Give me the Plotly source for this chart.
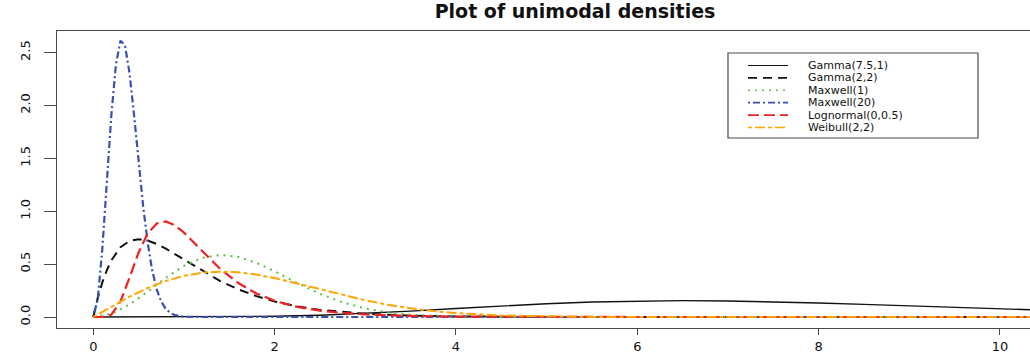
import plotly.graph_objects as go

# ---- density curves (x, density) ----
series_names = ["Gamma(7.5,1)", "Gamma(2,2)", "Maxwell(1)", "Maxwell(20)",
                "Lognormal(0,0.5)", "Weibull(2,2)"]

gamma75_x = [0, 1, 1.5, 2, 2.5, 3, 3.5, 4, 4.5, 5, 5.5, 6, 6.5, 7, 7.5, 8,
             8.5, 9, 9.5, 10, 10.5]
gamma75_y = [0, 0.0002, 0.0017, 0.0065, 0.0169, 0.0336, 0.0555, 0.0802,
             0.1046, 0.1258, 0.1419, 0.1514, 0.1546, 0.1517, 0.1441, 0.1329,
             0.1195, 0.1051, 0.0906, 0.0767, 0.0639]

gamma22_x = [0, 0.05, 0.1, 0.15, 0.2, 0.3, 0.4, 0.5, 0.6, 0.7, 0.8, 0.9, 1.0,
             1.2, 1.4, 1.6, 1.8, 2.0, 2.25, 2.5, 2.75, 3.0, 3.5, 4.0, 5.0,
             6.0, 10.5]
gamma22_y = [0, 0.181, 0.327, 0.444, 0.536, 0.659, 0.719, 0.736, 0.723,
             0.690, 0.646, 0.595, 0.541, 0.435, 0.340, 0.261, 0.197, 0.147,
             0.100, 0.067, 0.045, 0.030, 0.013, 0.005, 0.001, 0.0, 0.0]

maxwell1_x = [0, 0.2, 0.4, 0.6, 0.8, 1.0, 1.2, 1.4, 1.6, 1.8, 2.0, 2.25, 2.5,
              2.75, 3.0, 3.25, 3.5, 4.0, 4.5, 5.0, 10.5]
maxwell1_y = [0, 0.031, 0.118, 0.240, 0.371, 0.484, 0.559, 0.587, 0.568,
              0.512, 0.432, 0.321, 0.219, 0.138, 0.080, 0.043, 0.021, 0.004,
              0.001, 0.0, 0.0]

maxwell20_x = [0, 0.05, 0.1, 0.15, 0.2, 0.25, 0.3, 0.35, 0.4, 0.45, 0.5,
               0.55, 0.6, 0.65, 0.7, 0.75, 0.8, 0.85, 0.9, 1.0, 1.1, 1.2,
               10.5]
maxwell20_y = [0, 0.174, 0.646, 1.282, 1.914, 2.388, 2.612, 2.569, 2.305,
               1.908, 1.465, 1.048, 0.702, 0.441, 0.260, 0.145, 0.076, 0.038,
               0.018, 0.003, 0.0005, 0.0, 0.0]

lognorm_x = [0, 0.1, 0.2, 0.3, 0.4, 0.5, 0.6, 0.7, 0.8, 0.9, 1.0, 1.1, 1.2,
             1.4, 1.6, 1.8, 2.0, 2.25, 2.5, 2.75, 3.0, 3.5, 4.0, 5.0, 6.0,
             10.5]
lognorm_y = [0, 0.0002, 0.023, 0.147, 0.372, 0.610, 0.789, 0.884, 0.903,
             0.867, 0.798, 0.712, 0.622, 0.454, 0.321, 0.222, 0.153, 0.095,
             0.060, 0.038, 0.024, 0.010, 0.004, 0.001, 0.0, 0.0]

weibull_x = [0, 0.2, 0.4, 0.6, 0.8, 1.0, 1.2, 1.4, 1.6, 1.8, 2.0, 2.25, 2.5,
             2.75, 3.0, 3.25, 3.5, 3.75, 4.0, 4.5, 5.0, 5.5, 6.0, 7.0, 10.5]
weibull_y = [0, 0.099, 0.192, 0.274, 0.341, 0.389, 0.419, 0.429, 0.422,
             0.401, 0.368, 0.317, 0.262, 0.208, 0.158, 0.116, 0.082, 0.056,
             0.037, 0.014, 0.005, 0.001, 0.0004, 0.0, 0.0]

x_ticks = [0, 2, 4, 6, 8, 10]
x_tick_labels = ["0", "2", "4", "6", "8", "10"]
y_ticks = [0, 0.5, 1.0, 1.5, 2.0, 2.5]
y_tick_labels = ["0.0", "0.5", "1.0", "1.5", "2.0", "2.5"]

# line styles mimicking R's lty 1..6
styles = [
    dict(color="#111111", width=1.4, dash="solid"),
    dict(color="#111111", width=2.0, dash="9px,6px"),
    dict(color="#5cbf4a", width=2.0, dash="2px,5px"),
    dict(color="#3a4fb2", width=2.2, dash="2px,3px,7px,3px"),
    dict(color="#ee2222", width=2.2, dash="11px,5px"),
    dict(color="#ffa500", width=2.0, dash="4px,3px,10px,3px"),
]

curves = [(gamma75_x, gamma75_y), (gamma22_x, gamma22_y),
          (maxwell1_x, maxwell1_y), (maxwell20_x, maxwell20_y),
          (lognorm_x, lognorm_y), (weibull_x, weibull_y)]

fig = go.Figure()
for name, (xs, ys), st in zip(series_names, curves, styles):
    fig.add_trace(go.Scatter(x=xs, y=ys, mode="lines", name=name,
                             line=st, showlegend=False, hoverinfo="skip"))

W, H = 1030, 362
PLOT_L, PLOT_R, PLOT_T, PLOT_B = 57, 1030, 31, 328
AXIS_COL = "#4a4a4a"
TICK_FONT = dict(family="DejaVu Sans", size=13, color="#111111")


def paper_x(px):
    return (px - PLOT_L) / (PLOT_R - PLOT_L)


def paper_y(py):
    return (PLOT_B - py) / (PLOT_B - PLOT_T)


# boxed legend drawn in the upper right
shapes = [dict(type="rect", xref="paper", yref="paper",
               x0=paper_x(728), x1=paper_x(978),
               y0=paper_y(138), y1=paper_y(53),
               line=dict(color=AXIS_COL, width=1.2), fillcolor="white",
               layer="above")]
annotations = []
for i, (name, st) in enumerate(zip(series_names, styles)):
    cy = 65.5 + 12.4 * i
    shapes.append(dict(type="line", xref="paper", yref="paper",
                       x0=paper_x(748), x1=paper_x(788),
                       y0=paper_y(cy), y1=paper_y(cy),
                       line=dict(color=st["color"], width=st["width"] * 0.8,
                                 dash=st["dash"]),
                       layer="above"))
    annotations.append(dict(xref="paper", yref="paper",
                            x=paper_x(806), y=paper_y(cy),
                            xanchor="left", yanchor="middle",
                            text=name, showarrow=False,
                            font=dict(family="DejaVu Sans", size=11,
                                      color="#111111")))

fig.update_layout(
    width=W, height=H, autosize=False,
    margin=dict(l=PLOT_L, r=W - PLOT_R, t=PLOT_T, b=H - PLOT_B, pad=0),
    paper_bgcolor="white", plot_bgcolor="white",
    title=dict(text="Plot of unimodal densities",
               font=dict(family="DejaVu Sans", size=19, color="#111111",
                         weight="bold"),
               x=575 / W, xanchor="center", xref="container",
               y=1 - 11 / H, yanchor="middle", yref="container"),
    xaxis=dict(range=[-0.4, -0.4 + (PLOT_R - PLOT_L) / 90.67],
               tickvals=x_ticks, ticktext=x_tick_labels,
               ticks="outside", ticklen=6, tickwidth=1.2, tickcolor=AXIS_COL,
               showline=True, linecolor=AXIS_COL, linewidth=1.2, mirror=True,
               showgrid=False, zeroline=False, tickfont=TICK_FONT,
               ticklabelstandoff=0),
    yaxis=dict(range=[-0.104, 2.704],
               tickvals=y_ticks, ticktext=y_tick_labels, tickangle=-90,
               ticks="outside", ticklen=12, tickwidth=1.2, tickcolor=AXIS_COL,
               showline=True, linecolor=AXIS_COL, linewidth=1.4, mirror=False,
               showgrid=False, zeroline=False, tickfont=TICK_FONT,
               ticklabelstandoff=9),
    shapes=shapes, annotations=annotations, showlegend=False,
)

fig.write_html("out.html")
